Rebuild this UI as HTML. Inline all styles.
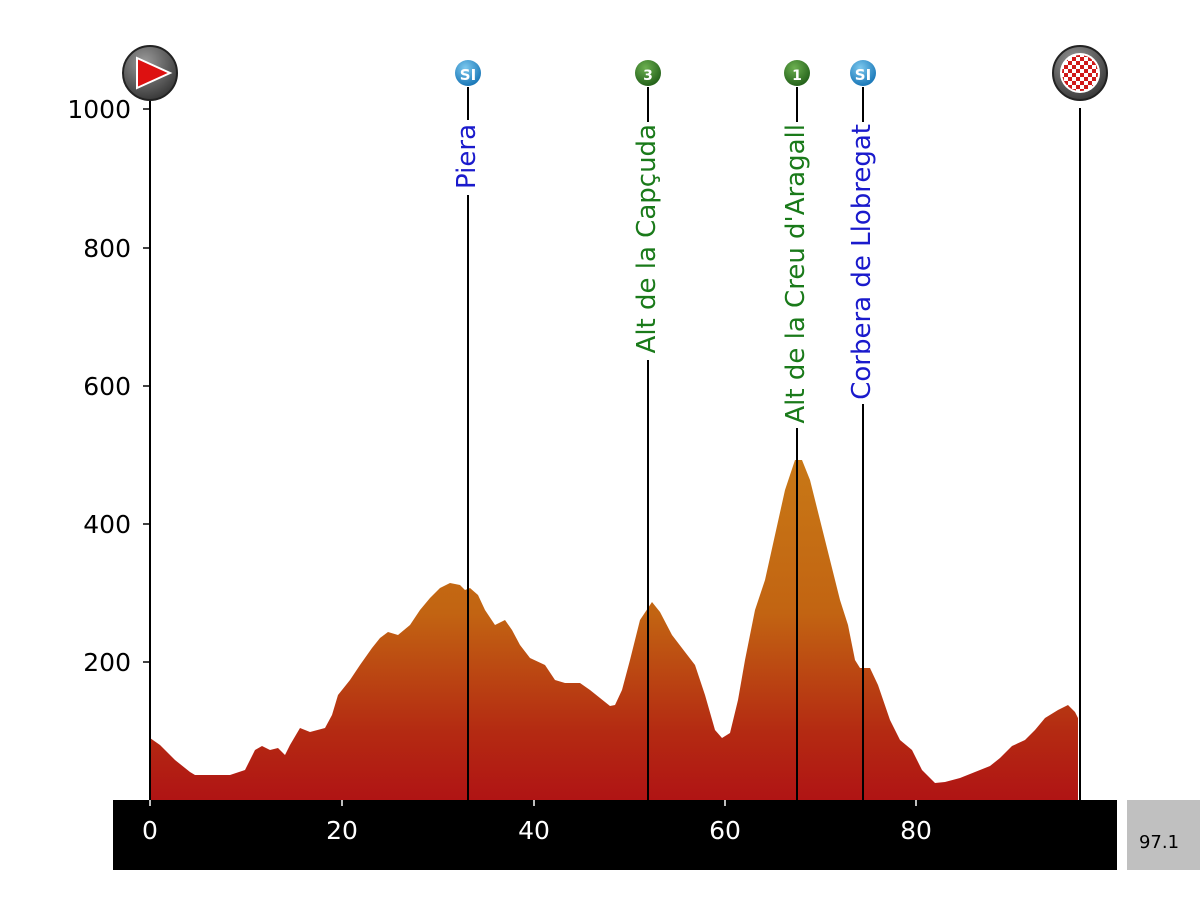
<!DOCTYPE html>
<html><head><meta charset="utf-8"><style>
html,body{margin:0;padding:0;background:#fff;width:1200px;height:900px;overflow:hidden}
</style></head><body>
<svg width="1200" height="900" xmlns="http://www.w3.org/2000/svg" font-family="'DejaVu Sans','Liberation Sans',sans-serif">
<defs>
<linearGradient id="g" gradientUnits="userSpaceOnUse" x1="0" y1="460" x2="0" y2="800">
<stop offset="0" stop-color="#c87816"/>
<stop offset="0.45" stop-color="#c26412"/>
<stop offset="0.8" stop-color="#b42a12"/>
<stop offset="1" stop-color="#b01414"/>
</linearGradient>
<radialGradient id="gb" cx="0.4" cy="0.3" r="0.7"><stop offset="0" stop-color="#9a9a9a"/><stop offset="1" stop-color="#3a3a3a"/></radialGradient>
<radialGradient id="bl" cx="0.4" cy="0.3" r="0.7"><stop offset="0" stop-color="#7cc8ee"/><stop offset="1" stop-color="#1a78b8"/></radialGradient>
<radialGradient id="gr" cx="0.4" cy="0.3" r="0.7"><stop offset="0" stop-color="#6cb050"/><stop offset="1" stop-color="#24621a"/></radialGradient>
<pattern id="chk" width="8" height="8" patternUnits="userSpaceOnUse" x="1072" y="65"><rect width="8" height="8" fill="#fff"/><rect width="4" height="4" fill="#d01818"/><rect x="4" y="4" width="4" height="4" fill="#d01818"/></pattern>
</defs>
<polygon fill="url(#g)" points="150,800 150,738 160,745 175,760 190,772 195,775 230,775 245,770 255,750 262,746 270,750 278,748 285,755 290,745 300,728 310,732 325,728 332,715 338,695 350,680 360,665 372,648 380,638 388,632 398,635 410,625 420,610 430,598 440,588 450,583 460,585 465,590 470,588 478,595 485,610 495,625 505,620 512,630 520,645 530,658 545,665 555,680 565,683 580,683 590,690 600,698 610,706 615,705 622,690 630,660 640,620 652,602 660,612 672,635 685,652 695,665 705,695 715,730 722,738 730,733 738,700 745,660 755,610 765,580 775,535 785,490 795,460 802,460 810,480 820,520 830,560 840,600 848,625 855,660 860,668 870,668 878,685 890,720 900,740 912,750 922,770 935,783 945,782 960,778 975,772 990,766 1000,758 1012,746 1025,740 1035,730 1045,718 1058,710 1068,705 1075,712 1078,718 1078,800"/>
<g stroke="#000" stroke-width="2">
<line x1="150" y1="100" x2="150" y2="800"/>
<line x1="1080" y1="108" x2="1080" y2="800"/>
<line x1="468" y1="87" x2="468" y2="120"/><line x1="468" y1="195" x2="468" y2="800"/>
<line x1="648" y1="87" x2="648" y2="122"/><line x1="648" y1="360" x2="648" y2="800"/>
<line x1="797" y1="87" x2="797" y2="122"/><line x1="797" y1="428" x2="797" y2="800"/>
<line x1="863" y1="87" x2="863" y2="122"/><line x1="863" y1="404" x2="863" y2="800"/>
</g>
<g font-size="26" text-anchor="end">
<text transform="translate(475,124) rotate(-90)" fill="#1a1acc">Piera</text>
<text transform="translate(655,124) rotate(-90)" fill="#1a7a1a">Alt de la Capçuda</text>
<text transform="translate(804,124) rotate(-90)" fill="#1a7a1a">Alt de la Creu d'Aragall</text>
<text transform="translate(870,124) rotate(-90)" fill="#1a1acc">Corbera de Llobregat</text>
</g>
<g font-size="25" text-anchor="end" fill="#000">
<text x="131" y="118">1000</text><text x="131" y="257">800</text><text x="131" y="395">600</text><text x="131" y="533">400</text><text x="131" y="671">200</text>
</g>
<g stroke="#000" stroke-width="1.5">
<line x1="143" y1="109" x2="150" y2="109"/><line x1="143" y1="248" x2="150" y2="248"/><line x1="143" y1="386" x2="150" y2="386"/><line x1="143" y1="524" x2="150" y2="524"/><line x1="143" y1="662" x2="150" y2="662"/>
</g>
<rect x="113" y="800" width="1004" height="70" fill="#000"/>
<g fill="#fff" font-size="25" text-anchor="middle">
<text x="150" y="839">0</text><text x="342" y="839">20</text><text x="534" y="839">40</text><text x="725" y="839">60</text><text x="916" y="839">80</text>
</g>
<g stroke="#fff" stroke-width="1.5"><line x1="150" y1="800" x2="150" y2="806"/><line x1="342" y1="800" x2="342" y2="806"/><line x1="534" y1="800" x2="534" y2="806"/><line x1="725" y1="800" x2="725" y2="806"/><line x1="916" y1="800" x2="916" y2="806"/></g>
<rect x="1127" y="800" width="73" height="70" fill="#c0c0c0"/>
<text x="1159" y="848" font-size="18" text-anchor="middle" fill="#000">97.1</text>
<circle cx="150" cy="73" r="27" fill="url(#gb)" stroke="#222" stroke-width="2"/>
<polygon points="137,58 137,88 170,73" fill="#dd1111" stroke="#fff" stroke-width="2"/>
<circle cx="1080" cy="73" r="27" fill="url(#gb)" stroke="#222" stroke-width="2"/>
<circle cx="1080" cy="73" r="19" fill="url(#chk)" stroke="#fff" stroke-width="2"/>
<circle cx="468" cy="73" r="13" fill="url(#bl)"/><text x="468" y="80" font-size="15" font-weight="bold" fill="#fff" text-anchor="middle">SI</text>
<circle cx="863" cy="73" r="13" fill="url(#bl)"/><text x="863" y="80" font-size="15" font-weight="bold" fill="#fff" text-anchor="middle">SI</text>
<circle cx="648" cy="73" r="13" fill="url(#gr)"/><text x="648" y="80" font-size="14" font-weight="bold" fill="#fff" text-anchor="middle">3</text>
<circle cx="797" cy="73" r="13" fill="url(#gr)"/><text x="797" y="80" font-size="14" font-weight="bold" fill="#fff" text-anchor="middle">1</text>
</svg>
</body></html>
